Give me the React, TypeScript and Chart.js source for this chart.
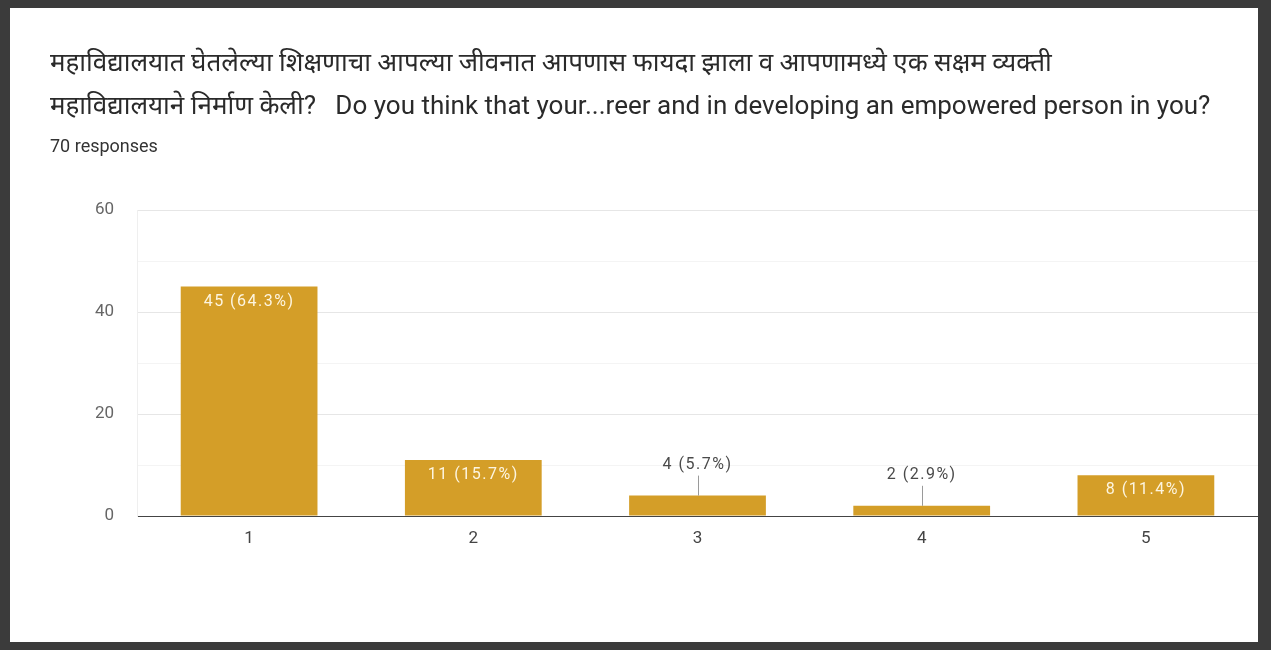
import React, { useEffect, useRef } from "react";
import { Chart, registerables } from "chart.js";

Chart.register(...registerables);

const titleLines = [
  "महाविद्यालयात घेतलेल्या शिक्षणाचा आपल्या जीवनात आपणास फायदा झाला व आपणामध्ये एक सक्षम व्यक्ती",
  "महाविद्यालयाने निर्माण केली?   Do you think that your...reer and in developing an empowered person in you?",
];
const subtitleText = "70 responses";
const categories = ["1", "2", "3", "4", "5"];
const counts = [45, 11, 4, 2, 8];
const totalResponses = 70;
const yTicks = [0, 20, 40, 60];

const FONT = "Roboto, 'Noto Sans', 'Noto Sans Devanagari', 'DejaVu Sans', sans-serif";
const BAR_COLOR = "#d49e28";

const labelPlugin = {
  id: "barValueLabels",
  afterDatasetsDraw(chart: any) {
    const ctx = chart.ctx;
    const meta = chart.getDatasetMeta(0);
    ctx.save();
    ctx.font = `16px ${FONT}`;
    try {
      (ctx as any).letterSpacing = "1.5px";
    } catch (e) {}
    ctx.textAlign = "center";
    ctx.textBaseline = "middle";
    meta.data.forEach((bar: any, i: number) => {
      const v = counts[i];
      const pct = ((v / totalResponses) * 100).toFixed(1);
      const text = `${v} (${pct}%)`;
      const { x, y, base } = bar.getProps(["x", "y", "base"], true);
      const h = base - y;
      if (h > 30) {
        ctx.fillStyle = "#fdf5e0";
        ctx.fillText(text, x, y + 15);
      } else {
        ctx.strokeStyle = "#9a9a9a";
        ctx.lineWidth = 1;
        ctx.beginPath();
        ctx.moveTo(Math.round(x) + 0.5, y);
        ctx.lineTo(Math.round(x) + 0.5, y - 20);
        ctx.stroke();
        ctx.fillStyle = "#4a4a4a";
        ctx.fillText(text, x, y - 31);
      }
    });
    ctx.restore();
  },
};

export default function App() {
  const canvasRef = useRef<HTMLCanvasElement | null>(null);

  useEffect(() => {
    if (!canvasRef.current) return;
    const chart = new Chart(canvasRef.current, {
      type: "bar",
      data: {
        labels: categories,
        datasets: [
          {
            data: counts,
            backgroundColor: BAR_COLOR,
            borderWidth: 0,
            categoryPercentage: 1,
            barPercentage: 0.61,
          },
        ],
      },
      plugins: [labelPlugin],
      options: {
        responsive: false,
        animation: false,
        layout: { padding: { left: 40, top: 30, right: 0, bottom: 0 } },
        plugins: {
          legend: { display: false },
          tooltip: { enabled: false },
          title: {
            display: true,
            text: titleLines,
            align: "start",
            color: "#2a2a2a",
            font: { family: FONT, size: 26, weight: "normal", lineHeight: 43 / 26 },
            padding: { top: 5, bottom: 0 },
          },
          subtitle: {
            display: true,
            text: subtitleText,
            align: "start",
            color: "#333333",
            font: { family: FONT, size: 18, weight: "normal", lineHeight: 20 / 18 },
            padding: { top: 8, bottom: 53 },
          },
        },
        scales: {
          x: {
            grid: { display: false, drawTicks: false },
            border: { display: true, color: "#444444", width: 1 },
            ticks: { color: "#444444", font: { family: FONT, size: 17 }, padding: 13 },
            afterFit: (axis: any) => {
              axis.height = 126;
            },
          },
          y: {
            min: 0,
            max: 60,
            grid: {
              drawTicks: false,
              color: (c: any) => {
                const v = c.tick ? c.tick.value : 0;
                if (v === 0) return "#444444";
                return yTicks.includes(v) ? "#e6e6e6" : "#f4f4f4";
              },
            },
            border: { display: true, color: "#efefef" },
            ticks: {
              stepSize: 10,
              color: "#666666",
              padding: 23,
              font: { family: FONT, size: 17 },
              callback: (val: any) => (yTicks.includes(Number(val)) ? String(val) : ""),
            },
            afterFit: (axis: any) => {
              axis.width = 87;
            },
          },
        },
      },
    });
    return () => chart.destroy();
  }, []);

  return (
    <div
      style={{
        position: "fixed",
        left: 0,
        top: 0,
        width: 1271,
        height: 650,
        boxSizing: "border-box",
        borderStyle: "solid",
        borderColor: "#3b3b3b",
        borderWidth: "8px 13px 8px 10px",
        background: "#ffffff",
      }}
    >
      <canvas ref={canvasRef} width={1248} height={634} style={{ display: "block" }} />
    </div>
  );
}
